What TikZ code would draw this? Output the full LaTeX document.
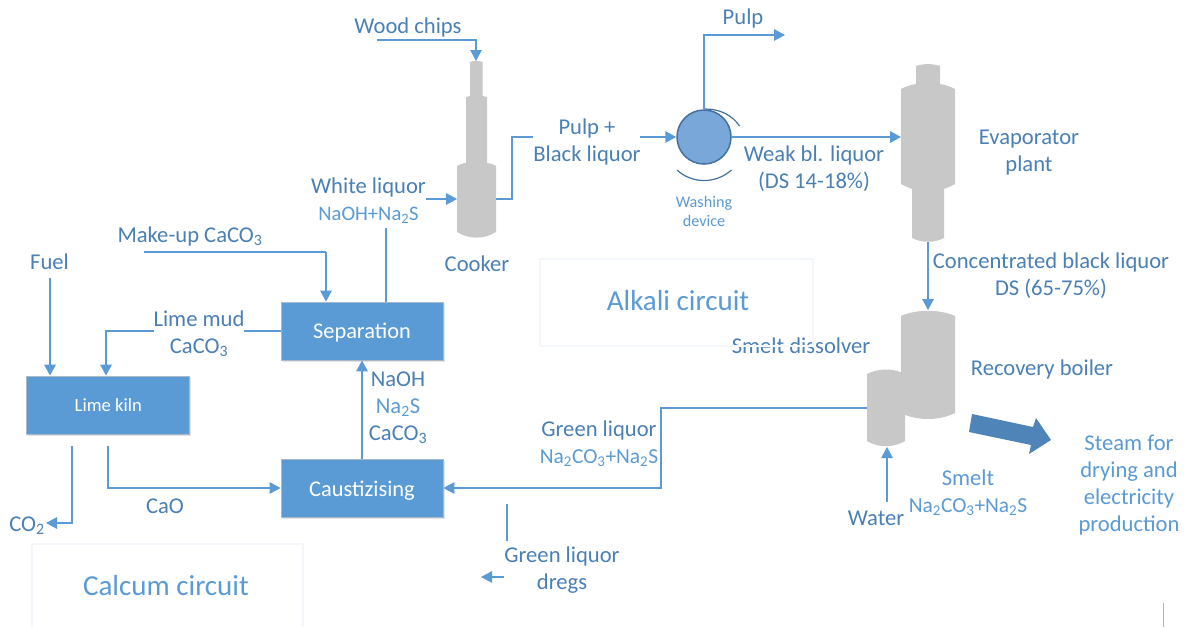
\documentclass[tikz,border=0pt]{standalone}
\usepackage{fontspec}
\setmainfont{Carlito}
\usetikzlibrary{arrows.meta,shadows}
\definecolor{lnblue}{HTML}{5B9BD5}
\definecolor{txdark}{HTML}{4A80B5}
\definecolor{txlight}{HTML}{5B9BD5}
\definecolor{vessel}{HTML}{C8C8C8}
\definecolor{washfill}{HTML}{7AA7D9}
\definecolor{washedge}{HTML}{41719C}
\definecolor{bigarrow}{HTML}{4E84B8}
\definecolor{faintbox}{HTML}{F3F7FC}
\definecolor{boxedge}{HTML}{A9B9C9}
\newcommand{\fmla}[1]{{\fontsize{21.4}{27}\selectfont #1}}
\tikzset{
  flow/.style={draw=lnblue,line width=1.5pt},
  flowa/.style={flow,-{Triangle[length=11pt,width=11.5pt]}},
  thinflow/.style={draw=lnblue,line width=1.2pt},
  thinflowa/.style={thinflow,-{Triangle[length=11pt,width=11.5pt]}},
  lab/.style={text=txdark,font=\fontsize{22.6}{27}\selectfont,align=center,inner sep=0pt,yshift=-1pt},
  labl/.style={lab,text=txlight},
  bigl/.style={labl,font=\fontsize{29}{32}\selectfont,yshift=1pt},
  procbox/.style={fill=lnblue,draw=boxedge,line width=0.8pt,text=white,
    font=\fontsize{22.4}{26}\selectfont,inner sep=0pt,
    drop shadow={opacity=.22,shadow xshift=1.5pt,shadow yshift=-2pt}},
  vesselshape/.style={fill=vessel,draw=none},
  circbox/.style={draw=faintbox,line width=2.5pt},
}
\begin{document}
\begin{tikzpicture}[x=1pt,y=-1pt]
\useasboundingbox[fill=white] (0,0) rectangle (1184,627);

% vessels
\path[vesselshape] (470,62) .. controls (474,60.5) and (478,60.5) .. (482.5,62) -- (482.5,96) -- (487,97) -- (487,163)
  .. controls (491,163.5) and (494,164.5) .. (496,166) -- (496,232) .. controls (484,239.5) and (469,239.5) .. (457,232)
  -- (457,166) .. controls (459,164.5) and (462,163.5) .. (466,163) -- (466,97) -- (470,96) -- cycle;
\path[vesselshape] (916,66) .. controls (923,63.5) and (933,63.5) .. (940,66) -- (940,84)
  .. controls (946,85) and (951,87) .. (955,89) -- (955,184) .. controls (951,186) and (948,187.5) .. (944,189)
  -- (944,238) .. controls (934,243) and (922,243) .. (912,238) -- (912,189) .. controls (908,187.5) and (905,186) .. (901,184)
  -- (901,89) .. controls (905,87) and (910,85) .. (916,84) -- cycle;
\path[vesselshape] (901,316) .. controls (917,309) and (939,309) .. (955,316) -- (955,413)
  .. controls (939,421) and (917,421) .. (901,413) -- cycle;
\path[vesselshape] (867,374) .. controls (879,368) and (893,368) .. (905,374) -- (905,441)
  .. controls (893,448) and (879,448) .. (867,441) -- cycle;

% big arrow
\path[fill=bigarrow] (972,414) -- (1033,427) -- (1036,418) -- (1051,440) -- (1029,454) -- (1031,445) -- (969,432) -- cycle;

% process boxes
\node[procbox,minimum width=163pt,minimum height=58pt,font=\fontsize{18.6}{22}\selectfont] (kiln) at (108.3,405) {\raisebox{-6.5pt}[0pt][0pt]{Lime kiln}};
\node[procbox,minimum width=162pt,minimum height=58pt] (sep) at (362,331) {\raisebox{-7pt}[0pt][0pt]{Separation}};
\node[procbox,minimum width=162pt,minimum height=58pt] (caus) at (362,488) {\raisebox{-8pt}[0pt][0pt]{Caustizising}};

% washer
\node[circle,fill=washfill,draw=washedge,line width=1.5pt,minimum size=54pt,inner sep=0pt] (wash) at (704,137) {};
\draw[washedge,line width=1.2pt] (705,109) .. controls (720,109) and (732,115) .. (739.5,126);
\draw[washedge,line width=1.2pt] (677,170) .. controls (692,184) and (716,184) .. (731.5,170);

% labels
\node[lab] (lwood) at (408,26) {Wood chips};
\node[lab] (lpulp) at (743,17) {Pulp};
\node[lab] (lpb) at (587,141) {Pulp +\\Black liquor};
\node[lab] (lweak) at (814,168) {Weak bl. liquor\\(DS 14-18\%)};
\node[lab] (levap) at (1029,152) {Evaporator\\plant};
\node[lab] (lwhite) at (368.5,199.5) {White liquor\\{\color{txlight}\fontsize{20.6}{27}\selectfont NaOH+Na\textsubscript{2}S}};
\node[lab] (lcook) at (477,262.5) {Cooker};
\node[labl,font=\fontsize{16.2}{19}\selectfont] (lwd) at (704,210.5) {Washing\\device};
\node[lab] (lconc) at (1051,275) {Concentrated black liquor\\DS (65-75\%)};
\node[lab] (lrec) at (1042,368) {Recovery boiler};
\node[lab] (lsd) at (801,345) {Smelt dissolver};
\node[labl] (lsteam) at (1129,484) {Steam for\\drying and\\electricity\\production};
\node[labl] (lsmelt) at (968,492) {Smelt\\\fmla{Na\textsubscript{2}CO\textsubscript{3}+Na\textsubscript{2}S}};
\node[lab] (lwater) at (876,517) {Water};
\node[lab] (lgreen) at (599,442.5) {Green liquor\\{\color{txlight}\fmla{Na\textsubscript{2}CO\textsubscript{3}+Na\textsubscript{2}S}}};
\node[lab] (ldreg) at (562,569) {Green liquor\\dregs};
\node[lab] (lnaoh) at (398,406.5) {NaOH\\{\color{txlight}Na\textsubscript{2}S}\\CaCO\textsubscript{3}};
\node[lab] (lcao) at (165,505.5) {CaO};
\node[lab] (lco) at (27,524.5) {CO\textsubscript{2}};
\node[lab] (lmake) at (190,235.5) {Make-up CaCO\textsubscript{3}};
\node[lab] (lfuel) at (49.5,260.5) {Fuel};
\node[lab] (lmud) at (199,333) {Lime mud\\CaCO\textsubscript{3}};
\node[bigl] (lalk) at (678,301) {Alkali circuit};
\node[bigl] (lcal) at (166,586) {Calcum circuit};

% faint circuit frames (drawn over the text, as in the source)
\node[circbox,minimum width=273pt,minimum height=87pt,inner sep=0pt] (falk) at (676.5,302.5) {};
\draw[circbox] (32,627) -- (32,544) -- (303,544) -- (303,627);

% connection points
\coordinate (woodA) at (377,40);
\coordinate (woodB) at (476,61);
\coordinate (pulpE) at (785,35);
\coordinate (cookR) at (496,199);
\coordinate (cookT) at (512,199);
\coordinate (pbL) at (533,137);
\coordinate (pbR) at (640,137);
\coordinate (evapL) at (901,137);
\coordinate (whA) at (426,199);
\coordinate (cookL) at (457,199);
\coordinate (whB) at (386,228);
\coordinate (evapB) at (928,242);
\coordinate (boilT) at (928,310);
\coordinate (makeA) at (144,252);
\coordinate (makeB) at (326,252);
\coordinate (fuelA) at (50,278);
\coordinate (mudL) at (154,331);
\coordinate (mudR) at (244,331);
\coordinate (kilnM) at (106,331);
\coordinate (co2A) at (72,446);
\coordinate (co2B) at (46,523);
\coordinate (caoA) at (108,446);
\coordinate (dissL) at (867,408);
\coordinate (turn) at (661,408);
\coordinate (waterA) at (887,502);
\coordinate (waterB) at (887,447);
\coordinate (dregA) at (507,504);
\coordinate (dregB) at (507,541);
\coordinate (dregC) at (504,577);
\coordinate (dregD) at (481,577);
\coordinate (tickA) at (1163,603);
\coordinate (tickB) at (1163,627);

% connectors
\draw[thinflowa] (woodA) -| (woodB);
\draw[flowa] (wash.north) |- (pulpE);
\draw[flow] (cookR) -- (cookT) |- (pbL);
\draw[flowa] (pbR) -- (wash.west);
\draw[flowa] (wash.east) -- (evapL);
\draw[flowa] (whA) -- (cookL);
\draw[flow] (whB) -- (whB |- sep.north);
\draw[flowa] (evapB) -- (boilT);
\draw[thinflow] (makeA) -- (makeB);
\draw[flowa] (makeB) -- (makeB |- sep.north);
\draw[flowa] (fuelA) -- (fuelA |- kiln.north);
\draw[flow] (sep.west |- mudR) -- (mudR);
\draw[flowa] (mudL) -- (kilnM) -- (kilnM |- kiln.north);
\draw[flowa] (co2A) |- (co2B);
\draw[flowa] (caoA) |- (caus.west);
\draw[flowa] (caus.north) -- (sep.south);
\draw[thinflowa] (dissL) -- (turn) -- (turn |- caus.east) -- (caus.east);
\draw[thinflowa] (waterA) -- (waterB);
\draw[thinflow] (dregA) -- (dregB);
\draw[thinflowa] (dregC) -- (dregD);
\draw[black!30,line width=0.8pt] (tickA) -- (tickB);
\end{tikzpicture}
\end{document}
